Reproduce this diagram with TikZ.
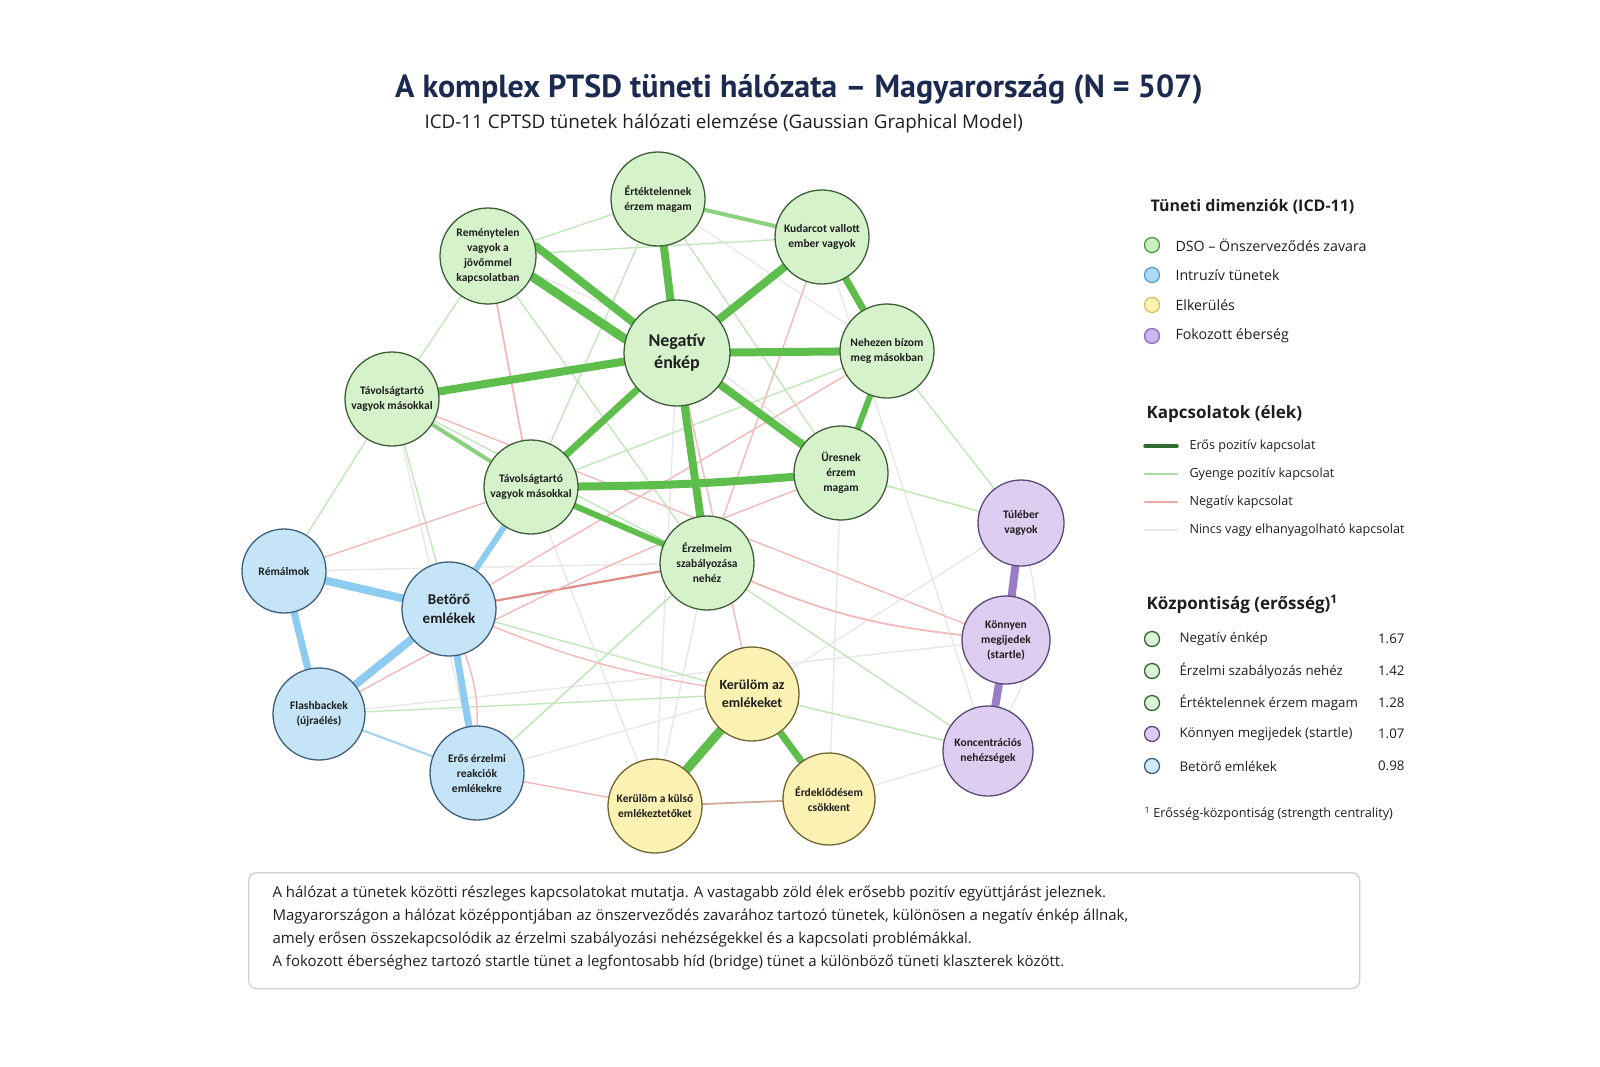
\documentclass[tikz,border=0pt]{standalone}
\usepackage{fontspec}
\setmainfont{Open Sans}
\newfontfamily\nodefont{Carlito}
\newfontfamily\titlefont{PT Sans}
\usetikzlibrary{backgrounds}
\definecolor{gfill}{HTML}{D5F2CB}
\definecolor{gdraw}{HTML}{3F5E3A}
\definecolor{bfill}{HTML}{C5E4F7}
\definecolor{bdraw}{HTML}{3E5F7A}
\definecolor{yfill}{HTML}{FAF1B2}
\definecolor{ydraw}{HTML}{6E6530}
\definecolor{pfill}{HTML}{DDCDF1}
\definecolor{pdraw}{HTML}{5A4A78}
\definecolor{gstrong}{HTML}{5DBE4C}
\definecolor{gmid}{HTML}{8AD27E}
\definecolor{glight}{HTML}{C2E7BA}
\definecolor{pinkE}{HTML}{F3B9B9}
\definecolor{redE}{HTML}{DD8E88}
\definecolor{brownE}{HTML}{CDAA98}
\definecolor{grayE}{HTML}{E8E8E8}
\definecolor{bedge}{HTML}{8DCBF0}
\definecolor{bedgeL}{HTML}{A9D3EE}
\definecolor{pedge}{HTML}{9A7DC9}
\definecolor{navy}{HTML}{1B2A4E}
\definecolor{txt}{HTML}{1E1E1E}
\definecolor{lgG}{HTML}{C9F0C0}\definecolor{lgGd}{HTML}{4E9A45}
\definecolor{lgB}{HTML}{AEDBF7}\definecolor{lgBd}{HTML}{5A9FD0}
\definecolor{lgY}{HTML}{FAF2AE}\definecolor{lgYd}{HTML}{D2C266}
\definecolor{lgP}{HTML}{CDB6EE}\definecolor{lgPd}{HTML}{8B6DBE}
\definecolor{lgDark}{HTML}{2E6B2E}
\definecolor{lgLight}{HTML}{A8DC9E}
\definecolor{lgPink}{HTML}{F0A4A4}
\tikzset{
  sym/.style={circle, line width=1.3pt, inner sep=1pt, align=center, text=txt,
    font=\nodefont\bfseries\fontsize{11.5}{15}\selectfont, minimum size=94pt},
  gn/.style={sym, draw=gdraw, fill=gfill},
  bn/.style={sym, draw=bdraw, fill=bfill},
  yn/.style={sym, draw=ydraw, fill=yfill},
  pn/.style={sym, draw=pdraw, fill=pfill},
  bigtxt/.style={font=\nodefont\bfseries\fontsize{18}{22}\selectfont},
  midtxt/.style={font=\nodefont\bfseries\fontsize{15}{19}\selectfont},
  edge/.style={line cap=round},
  strongE/.style={edge, draw=gstrong, line width=#1},
  midE/.style={edge, draw=gmid, line width=#1},
  lightE/.style={edge, draw=glight, line width=#1},
  pinkL/.style={edge, draw=pinkE, line width=#1},
  redL/.style={edge, draw=redE, line width=#1},
  grayL/.style={edge, draw=grayE, line width=#1},
  blueE/.style={edge, draw=bedge, line width=#1},
  purpE/.style={edge, draw=pedge, line width=#1},
  leghead/.style={anchor=west, font=\bfseries\fontsize{16}{19}\selectfont, text=txt},
  legitem/.style={anchor=west, font=\fontsize{14.2}{17}\selectfont, text=txt},
  legcirc/.style={circle, minimum size=15pt, inner sep=0pt, line width=1.3pt},
  bodytxt/.style={anchor=west, font=\fontsize{15}{18}\selectfont, text=black!88}
}
\begin{document}
\begin{tikzpicture}[x=1pt,y=-1pt]
\useasboundingbox (0,0) rectangle (1600,1066);
% title
\node[font=\titlefont\bfseries\fontsize{32}{38}\selectfont, text=navy] (title) at (799,89) {A komplex PTSD tüneti hálózata – Magyarország (N = 507)};
\node[anchor=west, font=\fontsize{18.8}{22}\selectfont, text=txt] (subtitle) at (421,124) {ICD-11 CPTSD tünetek hálózati elemzése (Gaussian Graphical Model)};

% nodes
\node[gn] (E) at (658,199) {Értéktelennek\\érzem magam};
\node[gn, minimum size=96pt] (R) at (488,256) {Reménytelen\\vagyok a\\jövőmmel\\kapcsolatban};
\node[gn] (K) at (822,237) {Kudarcot vallott\\ember vagyok};
\node[gn, bigtxt, minimum size=106pt] (N) at (677,353) {Negatív\\énkép};
\node[gn] (B) at (887,351) {Nehezen bízom\\meg másokban};
\node[gn] (T1) at (392,399) {Távolságtartó\\vagyok másokkal};
\node[gn] (U) at (841,473) {Üresnek\\érzem\\magam};
\node[gn] (T2) at (531,487) {Távolságtartó\\vagyok másokkal};
\node[gn] (Z) at (707,563) {Érzelmeim\\szabályozása\\nehéz};
\node[pn, minimum size=86pt] (TU) at (1021,523) {Túléber\\vagyok};
\node[pn, minimum size=88pt] (KM) at (1006,640) {Könnyen\\megijedek\\(startle)};
\node[pn, minimum size=90pt] (KO) at (988,751) {Koncentrációs\\nehézségek};
\node[bn, minimum size=84pt] (RM) at (284,571) {Rémálmok};
\node[bn, midtxt] (BE) at (449,609) {Betörő\\emlékek};
\node[bn, minimum size=92pt] (F) at (319,714) {Flashbackek\\(újraélés)};
\node[bn] (EE) at (477,773) {Erős érzelmi\\reakciók\\emlékekre};
\node[yn, font=\nodefont\bfseries\fontsize{14}{18}\selectfont] (KA) at (752,694) {Kerülöm az\\emlékeket};
\node[yn] (KK) at (655,806) {Kerülöm a külső\\emlékeztetőket};
\node[yn, minimum size=92pt] (ED) at (829,799) {Érdeklődésem\\csökkent};

\begin{scope}[on background layer]
\fill[white] (0,0) rectangle (1600,1066);
% negligible grey edges
\draw[grayL=1.4pt] (E) -- (B);
\draw[grayL=1.4pt] (T1) -- (EE);
\draw[grayL=1.4pt] (EE) -- (KA);
\draw[grayL=1.4pt] (KK) -- (Z);
\draw[grayL=1.4pt] (KO) -- (ED);
\draw[grayL=1.4pt] (U) -- (ED);
\draw[grayL=1.4pt] (T2) -- (KK);
\draw[grayL=1.4pt] (KA) -- (TU);
\draw[grayL=1.4pt] (N) -- (KK);
\draw[grayL=1.4pt] (F) -- (KM);
\draw[grayL=1.4pt] (RM) -- (Z);
\draw[grayL=1.4pt] (K) -- (KO);
\draw[grayL=1.4pt] (R) to[bend left=10] (U);
\draw[grayL=1.4pt] (TU) to[bend left=20] (KO);
% weak positive
\draw[lightE=1.4pt] (R) -- (E);
\draw[lightE=1.4pt] (R) -- (T1);
\draw[lightE=1.4pt] (E) -- (T2);
\draw[lightE=1.4pt] (E) -- (U);
\draw[lightE=1.4pt] (T1) -- (Z);
\draw[lightE=1.4pt] (T1) -- (RM);
\draw[lightE=1.4pt] (T1) -- (BE);
\draw[lightE=1.4pt] (B) -- (TU);
\draw[lightE=1.6pt] (U) -- (TU);
\draw[lightE=1.4pt] (T2) -- (B);
\draw[lightE=1.6pt] (Z) -- (EE);
\draw[lightE=1.4pt] (BE) -- (KA);
\draw[lightE=1.4pt] (F) -- (KA);
\draw[lightE=1.6pt] (KA) -- (KO);
\draw[lightE=1.4pt] (Z) -- (KO);
\draw[lightE=1.4pt] (R) -- (Z);
\draw[lightE=1.4pt] (K) -- (R);
% negative
\draw[pinkL=1.8pt] (R) -- (T2);
\draw[redL=2.2pt] (BE) -- (Z);
\draw[pinkL=1.8pt] (Z) to[bend right=8] (KM);
\draw[pinkL=1.4pt] (F) to[bend left=4] (U);
\draw[pinkL=1.4pt] (RM) -- (T2);
\draw[pinkL=1.4pt] (BE) to[bend left=10] (EE);
\draw[pinkL=1.4pt] (BE) to[bend right=6] (KA);
\draw[pinkL=1.4pt] (K) -- (Z);
\draw[pinkL=1.4pt] (BE) -- (B);
\draw[pinkL=1.4pt] (N) -- (KA);
\draw[pinkL=1.4pt] (T1) -- (KM);
\draw[pinkL=1.4pt] (KK) -- (EE);
\draw[brownE, edge, line width=1.8pt] (KK) -- (ED);
% strong positive
\draw[midE=4pt] (E) -- (K);
\draw[midE=4pt] (T1) -- (T2);
\draw[strongE=6pt] (T2) -- (Z);
\draw[strongE=8pt] (R.12) -- (N.145);
\draw[strongE=9pt] (R.-25) -- (N.165);
\draw[strongE=8pt] (N) -- (E);
\draw[strongE=8pt] (N) -- (K);
\draw[strongE=8pt] (N) -- (B);
\draw[strongE=8pt] (N) -- (T1);
\draw[strongE=8pt] (N) -- (U);
\draw[strongE=8pt] (N) -- (Z);
\draw[strongE=7pt] (N) -- (T2);
\draw[strongE=7pt] (K) -- (B);
\draw[strongE=6pt] (B) -- (U);
\draw[strongE=8pt] (T2) to[bend right=2] (U);
\draw[strongE=9pt] (KA) -- (KK);
\draw[strongE=7pt] (KA) -- (ED);
% intrusion
\draw[blueE=8pt] (RM) -- (BE);
\draw[blueE=7pt] (RM) -- (F);
\draw[blueE=8pt] (BE) -- (F);
\draw[blueE=7pt] (BE) -- (EE);
\draw[blueE=6pt] (BE) -- (T2);
\draw[edge, draw=bedgeL, line width=2.2pt] (F) -- (EE);
% hyperarousal
\draw[purpE=8pt] (TU) -- (KM);
\draw[purpE=8pt] (KM) -- (KO);
\end{scope}

% legend 1
\node[leghead] (h1) at (1147,207) {Tüneti dimenziók (ICD-11)};
\node[legcirc, fill=lgG, draw=lgGd] (c1) at (1152,245) {};
\node[legitem] (l1) at (1172,245) {DSO – Önszerveződés zavara};
\node[legcirc, fill=lgB, draw=lgBd] (c2) at (1152,275) {};
\node[legitem] (l2) at (1172,275) {Intruzív tünetek};
\node[legcirc, fill=lgY, draw=lgYd] (c3) at (1152,305) {};
\node[legitem] (l3) at (1172,305) {Elkerülés};
\node[legcirc, fill=lgP, draw=lgPd] (c4) at (1152,336) {};
\node[legitem] (l4) at (1172,336) {Fokozott éberség};

% legend 2
\node[leghead, font=\bfseries\fontsize{17}{20}\selectfont] (h2) at (1143,414) {Kapcsolatok (élek)};
\coordinate (a1) at (1145,446); \coordinate (b1) at (1177,446);
\coordinate (a2) at (1145,474); \coordinate (b2) at (1177,474);
\coordinate (a3) at (1145,502); \coordinate (b3) at (1177,502);
\coordinate (a4) at (1145,530); \coordinate (b4) at (1177,530);
\draw[edge, draw=lgDark, line width=3.5pt] (a1) -- (b1);
\draw[edge, draw=lgLight, line width=2.5pt] (a2) -- (b2);
\draw[edge, draw=lgPink, line width=2.5pt] (a3) -- (b3);
\draw[edge, draw=grayE, line width=2.5pt] (a4) -- (b4);
\node[legitem, font=\fontsize{12.6}{15}\selectfont] (m1) at (1186,446) {Erős pozitív kapcsolat};
\node[legitem, font=\fontsize{12.6}{15}\selectfont] (m2) at (1186,474) {Gyenge pozitív kapcsolat};
\node[legitem, font=\fontsize{12.6}{15}\selectfont] (m3) at (1186,502) {Negatív kapcsolat};
\node[legitem, font=\fontsize{12.6}{15}\selectfont] (m4) at (1186,530) {Nincs vagy elhanyagolható kapcsolat};

% legend 3
\node[leghead, font=\bfseries\fontsize{17}{20}\selectfont] (h3) at (1143,604) {Központiság (erősség)\textsuperscript{1}};
\node[legcirc, fill=lgG!70, draw=gdraw] (d1) at (1152,639) {};
\node[legitem, font=\fontsize{13.3}{16}\selectfont] (n1) at (1176,639) {Negatív énkép};
\node[legitem, anchor=east, font=\fontsize{13.3}{16}\selectfont] (v1) at (1408,639) {1.67};
\node[legcirc, fill=lgG!70, draw=gdraw] (d2) at (1152,671) {};
\node[legitem, font=\fontsize{13.3}{16}\selectfont] (n2) at (1176,671) {Érzelmi szabályozás nehéz};
\node[legitem, anchor=east, font=\fontsize{13.3}{16}\selectfont] (v2) at (1408,671) {1.42};
\node[legcirc, fill=lgG!70, draw=gdraw] (d3) at (1152,703) {};
\node[legitem, font=\fontsize{13.3}{16}\selectfont] (n3) at (1176,703) {Értéktelennek érzem magam};
\node[legitem, anchor=east, font=\fontsize{13.3}{16}\selectfont] (v3) at (1408,703) {1.28};
\node[legcirc, fill=lgP!70, draw=pdraw] (d4) at (1152,734) {};
\node[legitem, font=\fontsize{13.3}{16}\selectfont] (n4) at (1176,734) {Könnyen megijedek (startle)};
\node[legitem, anchor=east, font=\fontsize{13.3}{16}\selectfont] (v4) at (1408,734) {1.07};
\node[legcirc, fill=lgB!60, draw=bdraw] (d5) at (1152,766) {};
\node[legitem, font=\fontsize{13.3}{16}\selectfont] (n5) at (1176,766) {Betörő emlékek};
\node[legitem, anchor=east, font=\fontsize{13.3}{16}\selectfont] (v5) at (1408,766) {0.98};
\node[legitem, font=\fontsize{12.7}{15}\selectfont] (fn) at (1141,814) {\textsuperscript{1} Erősség-központiság (strength centrality)};

% bottom box
\node[draw=black!18, line width=1.3pt, rounded corners=8pt, minimum width=1111pt, minimum height=116pt, anchor=north west, inner sep=0pt] (box) at (248,872) {};
\node[bodytxt] (t1) at (269,894) {A hálózat a tünetek közötti részleges kapcsolatokat mutatja. A vastagabb zöld élek erősebb pozitív együttjárást jeleznek.};
\node[bodytxt] (t2) at (269,917) {Magyarországon a hálózat középpontjában az önszerveződés zavarához tartozó tünetek, különösen a negatív énkép állnak,};
\node[bodytxt] (t3) at (269,940) {amely erősen összekapcsolódik az érzelmi szabályozási nehézségekkel és a kapcsolati problémákkal.};
\node[bodytxt] (t4) at (269,963) {A fokozott éberséghez tartozó startle tünet a legfontosabb híd (bridge) tünet a különböző tüneti klaszterek között.};
\end{tikzpicture}
\end{document}
